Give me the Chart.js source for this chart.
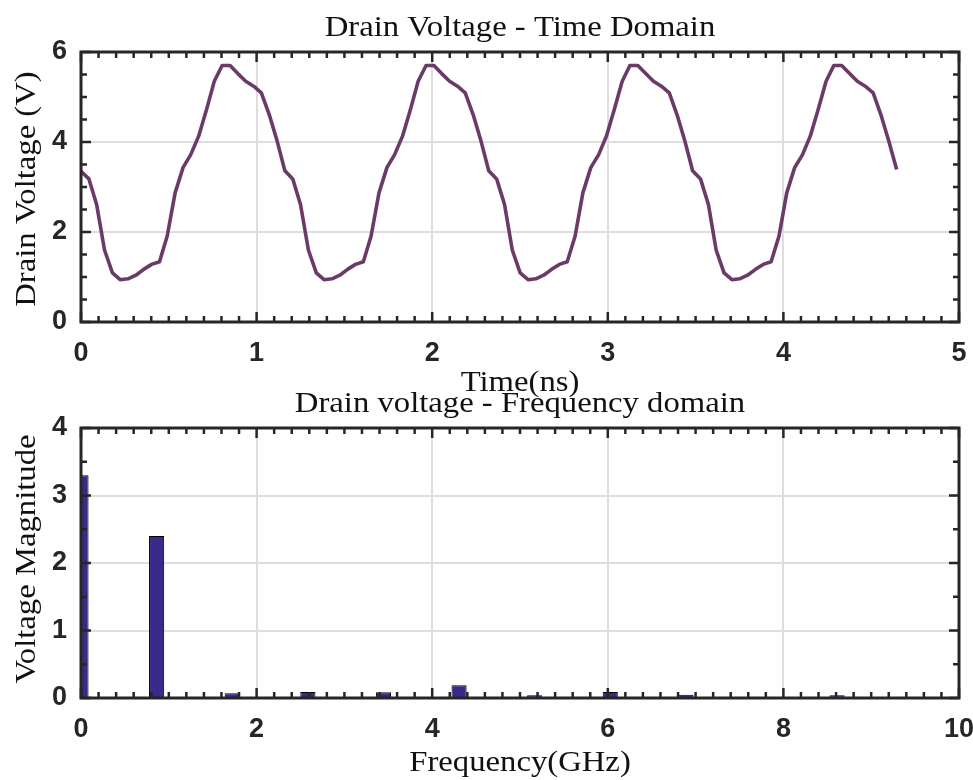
<!DOCTYPE html>
<html>
<head>
<meta charset="utf-8">
<title>Drain Voltage</title>
<script src="https://cdn.jsdelivr.net/npm/chart.js@4.4.0/dist/chart.umd.min.js"></script>
<style>
  html, body { margin: 0; padding: 0; background: #fff; }
  #wrap { position: relative; width: 973px; height: 780px; }
  #wrap canvas { position: absolute; left: 0; top: 0; }
</style>
</head>
<body>
<div id="wrap">
  <canvas id="timeChart" width="973" height="780"></canvas>
  <canvas id="freqChart" width="973" height="780"></canvas>
</div>
<script>
// time domain samples (ns, V)
const timeNs = [
  0.000, 0.045, 0.089, 0.134, 0.179, 0.223, 0.268, 0.313, 0.357, 0.402, 0.447, 0.491, 0.536,
  0.581, 0.625, 0.670, 0.715, 0.759, 0.804, 0.849, 0.893, 0.938, 0.983, 1.027, 1.072, 1.117,
  1.161, 1.206, 1.250, 1.295, 1.340, 1.384, 1.429, 1.474, 1.518, 1.563, 1.608, 1.652, 1.697,
  1.742, 1.786, 1.831, 1.876, 1.920, 1.965, 2.010, 2.054, 2.099, 2.144, 2.188, 2.233, 2.278,
  2.322, 2.367, 2.412, 2.456, 2.501, 2.546, 2.590, 2.635, 2.680, 2.724, 2.769, 2.814, 2.858,
  2.903, 2.948, 2.992, 3.037, 3.082, 3.126, 3.171, 3.216, 3.260, 3.305, 3.350, 3.394, 3.439,
  3.483, 3.528, 3.573, 3.617, 3.662, 3.707, 3.751, 3.796, 3.841, 3.885, 3.930, 3.975, 4.019,
  4.064, 4.109, 4.153, 4.198, 4.243, 4.287, 4.332, 4.377, 4.421, 4.466, 4.511, 4.555, 4.600,
  4.645
];
const drainVoltage = [
  3.35, 3.18, 2.61, 1.60, 1.09, 0.94, 0.96, 1.04, 1.17, 1.28, 1.34, 1.91, 2.87,
  3.43, 3.72, 4.13, 4.72, 5.35, 5.70, 5.70, 5.52, 5.35, 5.24, 5.09, 4.61, 4.02,
  3.36, 3.18, 2.61, 1.60, 1.09, 0.94, 0.96, 1.04, 1.17, 1.28, 1.34, 1.91, 2.87,
  3.43, 3.72, 4.13, 4.72, 5.35, 5.70, 5.70, 5.52, 5.35, 5.24, 5.09, 4.61, 4.02,
  3.36, 3.18, 2.61, 1.60, 1.09, 0.94, 0.96, 1.04, 1.17, 1.28, 1.34, 1.91, 2.87,
  3.43, 3.72, 4.13, 4.72, 5.35, 5.70, 5.70, 5.52, 5.35, 5.24, 5.09, 4.61, 4.02,
  3.36, 3.18, 2.61, 1.60, 1.09, 0.94, 0.96, 1.04, 1.17, 1.28, 1.34, 1.91, 2.87,
  3.43, 3.72, 4.13, 4.72, 5.35, 5.70, 5.70, 5.52, 5.35, 5.24, 5.09, 4.61, 4.02,
  3.39
];

// spectrum (GHz, V)
const freqGHz = [0, 0.861, 1.722, 2.584, 3.445, 4.306, 5.167, 6.028, 6.890, 7.751, 8.612, 9.473];
const voltageMagnitude = [3.30, 2.40, 0.07, 0.09, 0.085, 0.19, 0.04, 0.09, 0.05, 0.01, 0.04, 0.005];

// tick labels
const timeTicks = [0, 1, 2, 3, 4, 5];
const voltTicks = [0, 2, 4, 6];
const freqTicks = [0, 2, 4, 6, 8, 10];
const magTicks = [0, 1, 2, 3, 4];

const tickFont = { family: '"Liberation Sans", Arial, sans-serif', size: 27, weight: 'bold' };
const labelFont = '30px "Liberation Serif", "Times New Roman", serif';
const labelStretch = 1.09; // latex font is wider than times
const axisColor = '#262626';

// matlab style box with inward ticks on all four sides
const axesBox = {
  id: 'axesBox',
  afterDatasetsDraw(chart, args, opts) {
    const { ctx, chartArea: a } = chart;
    const x = chart.scales.x, y = chart.scales.y;
    ctx.save();
    ctx.strokeStyle = axisColor;
    ctx.lineWidth = 2.5;
    ctx.beginPath();
    for (let v = x.min; v <= x.max + 1e-9; v += opts.xMinor) {
      const px = x.getPixelForValue(v);
      const major = Math.abs(v / opts.xMajor - Math.round(v / opts.xMajor)) < 1e-6;
      const len = major ? 10 : 6;
      ctx.moveTo(px, a.bottom); ctx.lineTo(px, a.bottom - len);
      ctx.moveTo(px, a.top); ctx.lineTo(px, a.top + len);
    }
    for (let v = y.min; v <= y.max + 1e-9; v += opts.yMinor) {
      const py = y.getPixelForValue(v);
      const major = Math.abs(v / opts.yMajor - Math.round(v / opts.yMajor)) < 1e-6;
      const len = major ? 10 : 6;
      ctx.moveTo(a.left, py); ctx.lineTo(a.left + len, py);
      ctx.moveTo(a.right, py); ctx.lineTo(a.right - len, py);
    }
    ctx.stroke();
    ctx.lineWidth = 3;
    ctx.strokeRect(a.left, a.top, a.right - a.left, a.bottom - a.top);
    ctx.restore();
  }
};

// serif title + axis titles
function stretchedText(ctx, txt, x, y) {
  ctx.save();
  ctx.translate(x, y);
  ctx.scale(labelStretch, 1);
  ctx.fillText(txt, 0, 0);
  ctx.restore();
}

const texts = {
  id: 'texts',
  afterDraw(chart, args, opts) {
    const { ctx, chartArea: a } = chart;
    const cx = (a.left + a.right) / 2;
    ctx.save();
    ctx.fillStyle = '#111';
    ctx.font = labelFont;
    ctx.textAlign = 'center';
    ctx.textBaseline = 'alphabetic';
    stretchedText(ctx, opts.title, cx, a.top - 16);
    stretchedText(ctx, opts.xTitle, cx, a.bottom + opts.xTitleGap);
    ctx.translate(34.5, (a.top + a.bottom) / 2 + opts.yTitleShift);
    ctx.rotate(-Math.PI / 2);
    stretchedText(ctx, opts.yTitle, 0, 0);
    ctx.restore();
  }
};

function fixTicks(list) {
  return s => { s.ticks = list.map(v => ({ value: v })); };
}
function fitX(s) { s.height = 50; s.paddingLeft = 0; s.paddingRight = 0; }
function fitY(s) { s.width = 81; s.paddingTop = 0; s.paddingBottom = 0; }

function axis(min, max, list, isX) {
  return {
    type: 'linear', min: min, max: max, offset: false,
    afterBuildTicks: fixTicks(list),
    afterFit: isX ? fitX : fitY,
    grid: { color: '#dedede', lineWidth: 2, drawTicks: false, offset: false },
    border: { display: false },
    ticks: { font: tickFont, color: axisColor, padding: isX ? 15 : 14, maxRotation: 0, autoSkip: false }
  };
}

new Chart(document.getElementById('timeChart'), {
  type: 'line',
  data: {
    datasets: [{
      data: timeNs.map((t, i) => ({ x: t, y: drainVoltage[i] })),
      borderColor: '#6a3b66',
      borderWidth: 3.6,
      pointRadius: 0,
      tension: 0,
      fill: false,
      borderJoinStyle: 'round'
    }]
  },
  options: {
    responsive: false,
    animation: false,
    layout: { padding: { top: 52, right: 14, bottom: 408, left: 0 } },
    plugins: {
      legend: { display: false },
      tooltip: { enabled: false },
      axesBox: { xMinor: 0.1, xMajor: 1, yMinor: 0.5, yMajor: 2 },
      texts: { title: 'Drain Voltage - Time Domain', xTitle: 'Time(ns)', yTitle: 'Drain Voltage (V)', xTitleGap: 69, yTitleShift: 2 }
    },
    scales: {
      x: axis(0, 5, timeTicks, true),
      y: axis(0, 6, voltTicks, false)
    }
  },
  plugins: [axesBox, texts]
});

new Chart(document.getElementById('freqChart'), {
  type: 'bar',
  data: {
    datasets: [{
      data: freqGHz.map((f, i) => ({ x: f, y: voltageMagnitude[i] })),
      backgroundColor: '#38298a',
      borderColor: '#000',
      borderWidth: 1,
      categoryPercentage: 1,
      barPercentage: 0.2
    }]
  },
  options: {
    responsive: false,
    animation: false,
    layout: { padding: { top: 428, right: 14, bottom: 32, left: 0 } },
    plugins: {
      legend: { display: false },
      tooltip: { enabled: false },
      axesBox: { xMinor: 0.2, xMajor: 2, yMinor: 0.5, yMajor: 1 },
      texts: { title: 'Drain voltage - Frequency domain', xTitle: 'Frequency(GHz)', yTitle: 'Voltage Magnitude', xTitleGap: 73, yTitleShift: -4 }
    },
    scales: {
      x: axis(0, 10, freqTicks, true),
      y: axis(0, 4, magTicks, false)
    }
  },
  plugins: [axesBox, texts]
});
</script>
</body>
</html>
